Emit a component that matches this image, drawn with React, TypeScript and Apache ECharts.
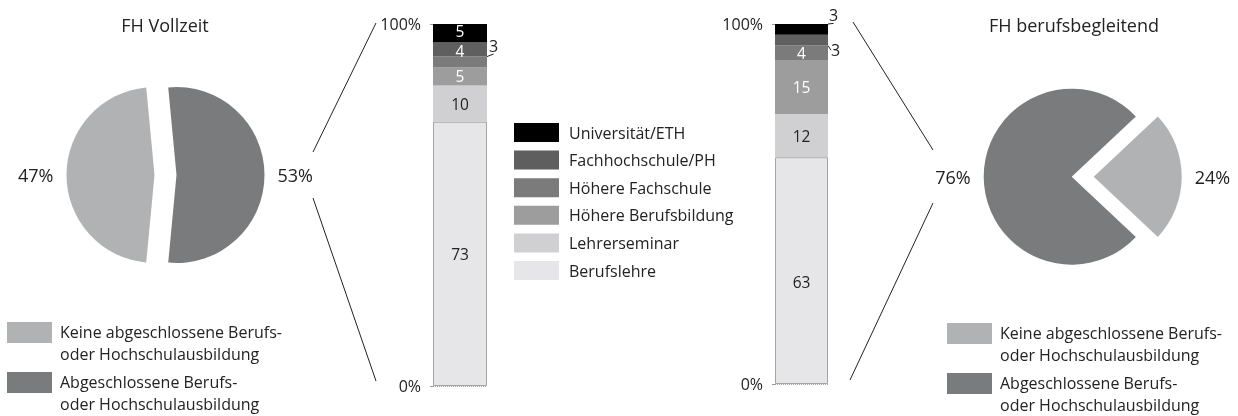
import React, { useEffect, useRef } from "react";
import * as echarts from "echarts";

const categories = [
  "Berufslehre",
  "Lehrerseminar",
  "Höhere Berufsbildung",
  "Höhere Fachschule",
  "Fachhochschule/PH",
  "Universität/ETH",
];
const vollzeitValues = [73, 10, 5, 3, 4, 5];
const begleitendValues = [63, 12, 15, 4, 3, 3];
const barColors = ["#e6e6e8", "#d0d0d2", "#9d9d9e", "#7b7b7c", "#5f5f5f", "#000000"];
const labelColors = ["#222", "#222", "#fff", "#fff", "#fff", "#fff"];

const pieNames = [
  "Keine abgeschlossene Berufs-\noder Hochschulausbildung",
  "Abgeschlossene Berufs-\noder Hochschulausbildung",
];
const pieColors = ["#b1b2b4", "#7a7b7d"];
const vollzeitPie = [47, 53];
const begleitendPie = [24, 76];

const FONT = "Open Sans";

function labelOffset(gi: number, i: number): number[] | undefined {
  if (gi === 1 && i === 0) return [0, 11];
  if (gi === 0 && i === 5) return [0, -2];
  if (gi === 0 && i === 4) return [0, 1.5];
  return undefined;
}

function barSeries(values: number[], gi: number) {
  return categories.map((name, i) => {
    const v = values[i];
    const small = v <= 3;
    let layout: any = undefined;
    if (small) {
      if (gi === 0) layout = { dx: -3, dy: -16 };
      else if (i === 5) layout = { dx: -4, dy: -14 };
      else layout = { dx: -2, dy: 10 };
    }
    const off = labelOffset(gi, i);
    return {
      type: "bar",
      name,
      stack: "s" + gi,
      xAxisIndex: gi,
      yAxisIndex: gi,
      barWidth: "100%",
      data: [
        {
          value: v,
          label: off ? { offset: off } : undefined,
        },
      ],
      itemStyle: {
        color: barColors[i],
        borderColor: i === 0 ? "#a4a4a4" : barColors[i],
        borderWidth: i === 0 ? 1 : 0,
      },
      label: {
        show: true,
        position: small ? "right" : "inside",
        distance: 5,
        color: small ? "#222" : labelColors[i],
        fontFamily: FONT,
        fontSize: small ? 16 : 15.5,
        lineHeight: 14,
      },
      labelLayout: layout,
      labelLine: small
        ? { show: true, lineStyle: { color: "#222", width: 1 } }
        : undefined,
    };
  });
}

export default function App() {
  const ref = useRef<HTMLDivElement>(null);
  useEffect(() => {
    if (!ref.current) return;
    const chart = echarts.init(ref.current, null, { renderer: "svg" });

    const yAxisCommon = (gi: number) => ({
      type: "value",
      gridIndex: gi,
      min: 0,
      max: 100,
      interval: 100,
      axisLine: { show: false },
      axisTick: { show: true, length: 3, lineStyle: { color: "#999" } },
      axisLabel: {
        formatter: "{value}%",
        fontFamily: FONT,
        fontSize: 16,
        color: "#222",
        margin: 12,
      },
      splitLine: {
        show: true,
        lineStyle: { color: ["#a4a4a4", "#333"], type: "dotted", width: 1 },
      },
    });

    const pieLabel = {
      show: true,
      position: "outside",
      formatter: (p: any) => p.value + "%",
      fontFamily: FONT,
      fontSize: 18,
      color: "#222",
    };

    const legendRows = (x: number, y: number) => {
      const els: any[] = [];
      pieNames.forEach((n, i) => {
        const yy = y + i * 50;
        els.push({
          type: "rect",
          shape: { x, y: yy, width: 45, height: 21 },
          style: { fill: pieColors[i] },
        });
        els.push({
          type: "text",
          x: x + 53,
          y: yy - 1,
          style: {
            text: n,
            fontFamily: FONT,
            fontSize: 16,
            lineHeight: 22,
            fill: "#222",
            textVerticalAlign: "top",
          },
        });
      });
      return els;
    };

    const line = (x1: number, y1: number, x2: number, y2: number) => ({
      type: "line",
      shape: { x1, y1, x2, y2 },
      style: { stroke: "#222", lineWidth: 1 },
    });

    const title = (text: string, x: number) => ({
      type: "text",
      x,
      y: 25,
      style: {
        text,
        fontFamily: FONT,
        fontSize: 18,
        fill: "#222",
        textAlign: "center",
        textVerticalAlign: "middle",
      },
    });

    chart.setOption({
      animation: false,
      textStyle: { fontFamily: FONT },
      grid: [
        { left: 433, top: 24, width: 54, height: 362 },
        { left: 775, top: 24, width: 53, height: 360 },
      ],
      xAxis: [
        { type: "category", gridIndex: 0, data: ["FH Vollzeit"], show: false },
        { type: "category", gridIndex: 1, data: ["FH berufsbegleitend"], show: false },
      ],
      yAxis: [yAxisCommon(0), yAxisCommon(1)],
      legend: {
        orient: "vertical",
        left: 514,
        top: 123,
        padding: 0,
        itemWidth: 45,
        itemHeight: 19,
        itemGap: 8.6,
        icon: "rect",
        data: categories.slice().reverse(),
        selectedMode: false,
        itemStyle: { borderWidth: 0 },
        textStyle: {
          fontFamily: FONT,
          fontSize: 16,
          color: "#222",
          padding: [0, 0, 0, 5],
        },
      },
      series: [
        ...barSeries(vollzeitValues, 0),
        ...barSeries(begleitendValues, 1),
        {
          type: "pie",
          center: [165.5, 175],
          radius: 88,
          startAngle: 264.6,
          selectedMode: "multiple",
          selectedOffset: 11,
          label: { ...pieLabel },
          labelLine: { show: false, length: 8, length2: 0 },
          emphasis: { disabled: true },
          data: vollzeitPie.map((v, i) => ({
            value: v,
            name: pieNames[i],
            selected: true,
            itemStyle: { color: pieColors[i] },
          })),
        },
        {
          type: "pie",
          center: [1071.7, 176.7],
          radius: 88,
          startAngle: 43.2,
          selectedMode: "single",
          selectedOffset: 22,
          label: { ...pieLabel },
          labelLine: { show: false, length: 8, length2: 0 },
          emphasis: { disabled: true },
          data: begleitendPie.map((v, i) => ({
            value: v,
            name: pieNames[i],
            selected: i === 0,
            itemStyle: { color: pieColors[i] },
          })),
        },
      ],
      graphic: [
        title("FH Vollzeit", 165),
        title("FH berufsbegleitend", 1074),
        line(313, 152, 376, 23),
        line(313, 198, 376, 381),
        line(853, 22, 933, 150),
        line(933, 203, 850, 380),
        ...legendRows(7, 322),
        ...legendRows(947, 323),
      ],
    });
    return () => chart.dispose();
  }, []);
  return (
    <div
      ref={ref}
      style={{ position: "fixed", left: 0, top: 0, width: 1238, height: 416 }}
    />
  );
}
